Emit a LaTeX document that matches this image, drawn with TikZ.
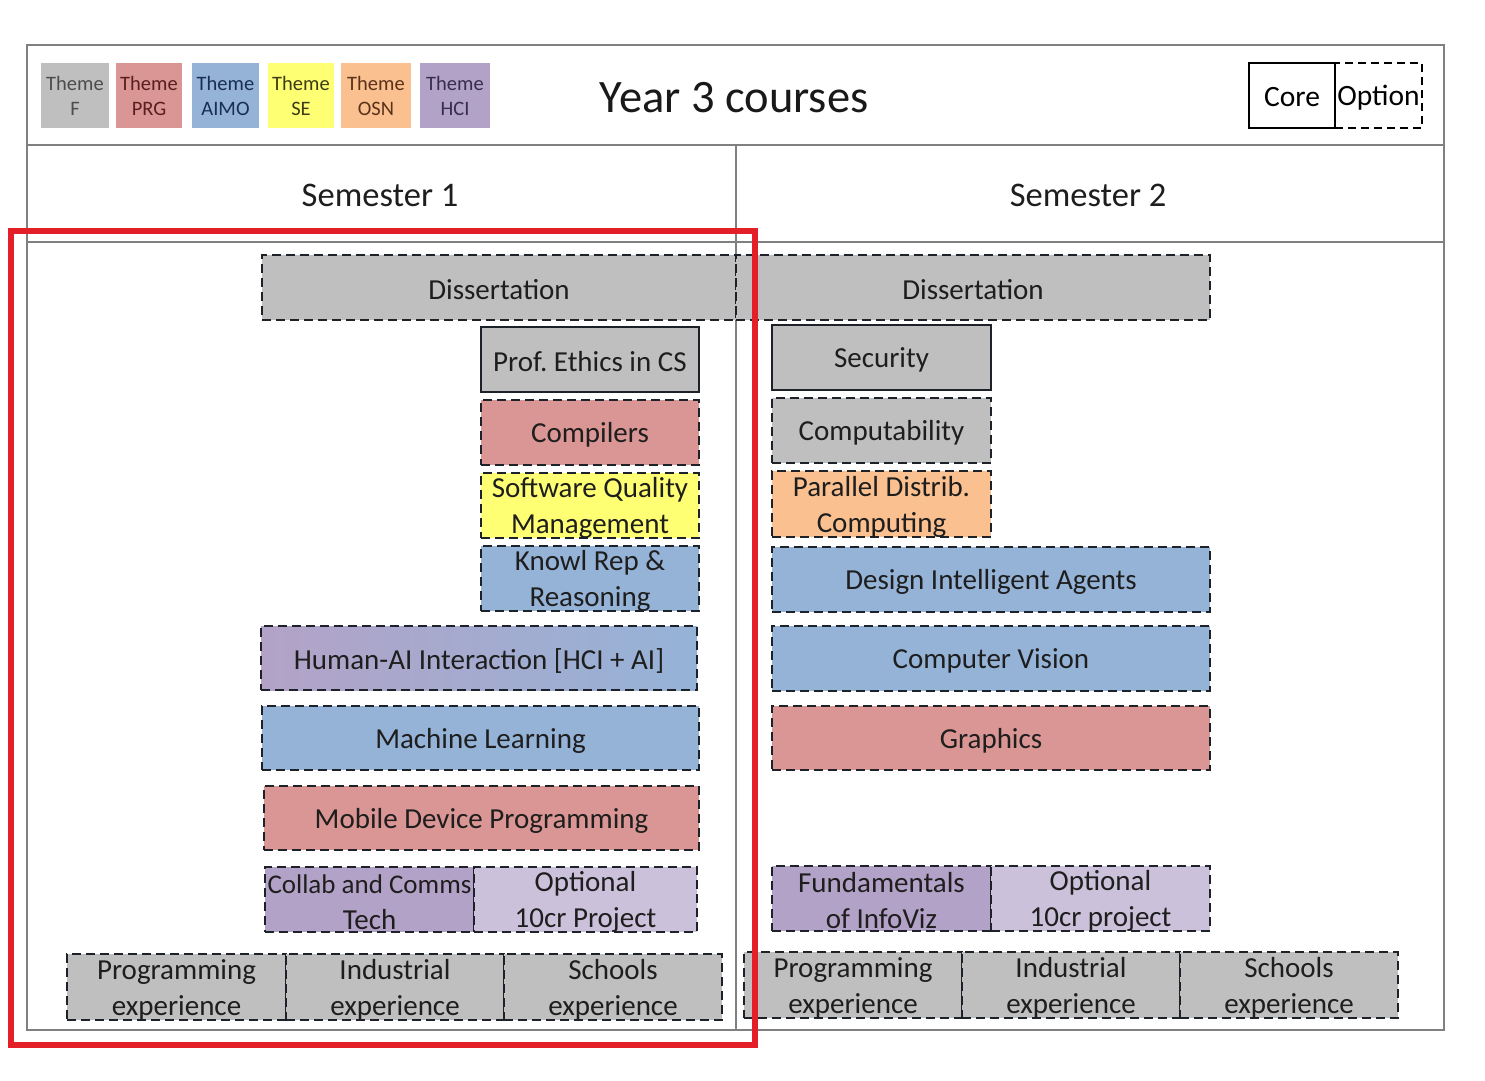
\documentclass[tikz,border=0pt]{standalone}
\usepackage{fontspec}
\setmainfont{Carlito}
\frenchspacing
\definecolor{cF}{HTML}{BFBFBF}
\definecolor{cPRG}{HTML}{DA9694}
\definecolor{cAIMO}{HTML}{95B3D7}
\definecolor{cSE}{HTML}{FFFF73}
\definecolor{cOSN}{HTML}{FAC090}
\definecolor{cHCI}{HTML}{B3A2C7}
\definecolor{cHCIl}{HTML}{CCC1DA}
\definecolor{frame}{HTML}{808080}
\definecolor{redbox}{HTML}{E31F28}
\definecolor{txt}{HTML}{1E1E1E}
\definecolor{edge}{HTML}{1C2228}
\newcommand\course[4]{%
  \node[crs,#1] (#2) at (#3) {};
  \node[ctext] (#2t) at ([yshift=-2.5pt]#2.center) {#4};}
\begin{document}
\begin{tikzpicture}[x=1pt,y=-1pt,
  crs/.style={draw=edge, line width=2.8pt, dash pattern=on 9pt off 5pt, inner sep=0pt, outer sep=0pt},
  corecrs/.style={crs, solid, line width=2.6pt},
  ctext/.style={inner sep=0pt, align=center, font=\fontsize{29}{36}\selectfont, text=txt},
  half/.style={minimum width=218pt, minimum height=65pt},
  legend/.style={inner sep=0pt, outer sep=0pt, align=center, minimum height=65pt,
    font=\fontsize{20.5}{25}\selectfont},
  semtitle/.style={font=\fontsize{34.5}{40}\selectfont, text=txt},
]
\useasboundingbox (0,0) rectangle (1485,1080);
\fill[white] (0,0) rectangle (1485,1080);

% frame
\draw[frame, line width=1.5pt] (27,45) rectangle (1444,1030);
\draw[frame, line width=1.5pt] (27,145) -- (1444,145);
\draw[frame, line width=1.5pt] (27,242) -- (1444,242);
\draw[frame, line width=1.2pt] (736,145) -- (736,1030);

% legend
\node[legend, fill=cF, minimum width=68pt, text=black!70] (lF) at (75,95.5) {Theme\\F};
\node[legend, fill=cPRG, minimum width=66pt, text={rgb,255:red,90;green,30;blue,30}] (lPRG) at (149,95.5) {Theme\\PRG};
\node[legend, fill=cAIMO, minimum width=67pt, text={rgb,255:red,25;green,45;blue,85}] (lAIMO) at (225.5,95.5) {Theme\\AIMO};
\node[legend, fill=cSE, minimum width=66pt, text={rgb,255:red,60;green,60;blue,20}] (lSE) at (301,95.5) {Theme\\SE};
\node[legend, fill=cOSN, minimum width=70pt, text={rgb,255:red,90;green,50;blue,25}] (lOSN) at (376,95.5) {Theme\\OSN};
\node[legend, fill=cHCI, minimum width=70pt, text={rgb,255:red,55;green,45;blue,75}] (lHCI) at (455,95.5) {Theme\\HCI};

\node[font=\fontsize{46.5}{52}\selectfont, text=black!90] (title) at (734,98) {Year 3 courses};

\node[draw=black, line width=2pt, dash pattern=on 8pt off 5pt, minimum width=87pt, minimum height=65pt, inner sep=0pt, outer sep=0pt] (opt) at (1378.5,95.5) {};
\node[draw=black, line width=2pt, minimum width=86pt, minimum height=65pt, inner sep=0pt, outer sep=0pt] (core) at (1292,95.5) {};
\node[font=\fontsize{29.5}{32}\selectfont, inner sep=0pt] (optt) at ([yshift=-2pt]opt.center) {Option};
\node[font=\fontsize{29.5}{32}\selectfont, inner sep=0pt] (coret) at ([yshift=-2pt]core.center) {Core};

\node[semtitle] (s1) at (380,195) {Semester 1};
\node[semtitle] (s2) at (1088,195) {Semester 2};

% Semester 1
\course{fill=cF, minimum width=474pt, minimum height=65pt}{diss1}{499,287.5}{Dissertation}
\course{corecrs, half, fill=cF}{ethics}{590,359.5}{Prof. Ethics in CS}
\course{half, fill=cPRG}{comp}{590,432.5}{Compilers}
\course{half, fill=cSE}{sqm}{590,505.5}{Software Quality\\Management}
\course{half, fill=cAIMO}{krr}{590,578.5}{Knowl Rep \&\\Reasoning}
\course{left color=cHCI, right color=cAIMO, minimum width=436pt, minimum height=64pt}{hai}{479,658}{Human-AI Interaction [HCI + AI]}
\course{fill=cAIMO, minimum width=437pt, minimum height=64pt}{ml}{480.5,738}{Machine Learning}
\course{fill=cPRG, minimum width=435pt, minimum height=64pt}{mdp}{481.5,818}{Mobile Device Programming}
\course{fill=cHCI, minimum width=209pt, minimum height=65pt}{cct}{369.5,899.5}{{\fontsize{27}{34}\selectfont Collab and Comms}\\Tech}
\course{fill=cHCIl, minimum width=223pt, minimum height=65pt}{opt1}{585.5,899.5}{Optional\\10cr Project}
\course{fill=cF, minimum width=219pt, minimum height=66pt}{pe1}{176.5,987}{Programming\\experience}
\course{fill=cF, minimum width=218pt, minimum height=66pt}{ie1}{395,987}{Industrial\\experience}
\course{fill=cF, minimum width=218pt, minimum height=66pt}{se1}{613,987}{Schools\\experience}

% Semester 2
\course{fill=cF, minimum width=474pt, minimum height=65pt}{diss2}{973,287.5}{Dissertation}
\course{corecrs, fill=cF, minimum width=219pt, minimum height=65pt}{sec}{881.5,357.5}{Security}
\course{fill=cF, minimum width=219pt, minimum height=65pt}{cmp}{881.5,430.5}{Computability}
\course{fill=cOSN, minimum width=219pt, minimum height=66pt}{pdc}{881.5,504}{Parallel Distrib.\\Computing}
\course{fill=cAIMO, minimum width=438pt, minimum height=65pt}{dia}{991,579.5}{Design Intelligent Agents}
\course{fill=cAIMO, minimum width=438pt, minimum height=65pt}{cv}{991,658.5}{Computer Vision}
\course{fill=cPRG, minimum width=438pt, minimum height=64pt}{gr}{991,738}{Graphics}
\course{fill=cHCI, minimum width=219pt, minimum height=65pt}{iv}{881.5,898.5}{Fundamentals\\of InfoViz}
\course{fill=cHCIl, minimum width=219pt, minimum height=65pt}{opt2}{1100.5,898.5}{Optional\\10cr project}
\course{fill=cF, minimum width=218pt, minimum height=66pt}{pe2}{853,985}{Programming\\experience}
\course{fill=cF, minimum width=218pt, minimum height=66pt}{ie2}{1071,985}{Industrial\\experience}
\course{fill=cF, minimum width=218pt, minimum height=66pt}{se2}{1289,985}{Schools\\experience}

% red highlight
\draw[redbox, line width=6pt] (11,231) rectangle (755,1045);
\end{tikzpicture}
\end{document}
